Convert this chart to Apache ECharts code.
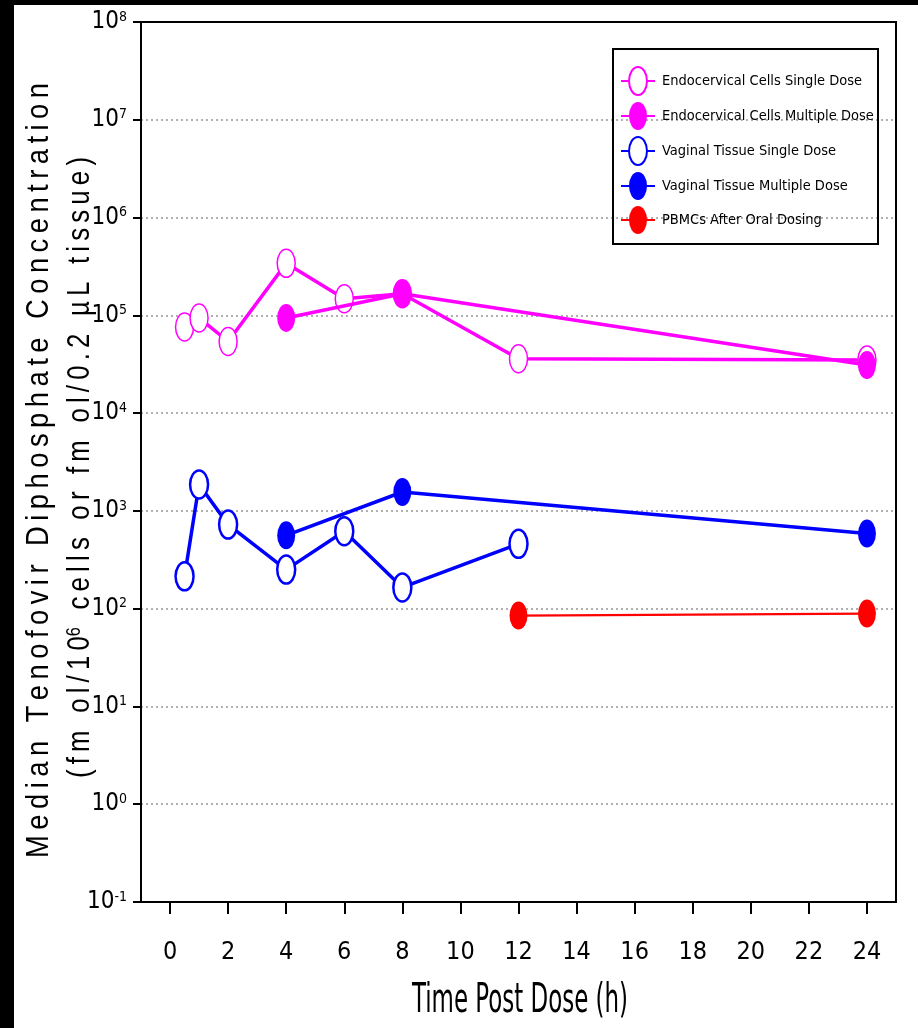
<!DOCTYPE html>
<html><head><meta charset="utf-8">
<script src="https://cdn.jsdelivr.net/npm/echarts@6/dist/echarts.min.js"></script>
<style>html,body{margin:0;padding:0;background:#fff}#c{width:918px;height:1028px}</style>
</head><body><div id="c"></div>
<script>
// ---- data ----
const xTicks = [0, 2, 4, 6, 8, 10, 12, 14, 16, 18, 20, 22, 24];
const yTickExponents = [-1, 0, 1, 2, 3, 4, 5, 6, 7, 8];

const seriesNames = [
  'Endocervical Cells Single Dose',
  'Endocervical Cells Multiple Dose',
  'Vaginal Tissue Single Dose',
  'Vaginal Tissue Multiple Dose',
  'PBMCs After Oral Dosing'
];
const endoSingleTime  = [0.5, 1, 2, 4, 6, 8, 12, 24];
const endoSingleValue = [7.6e4, 9.4e4, 5.4e4, 3.4e5, 1.48e5, 1.66e5, 3.6e4, 3.5e4];
const endoMultiTime   = [4, 8, 24];
const endoMultiValue  = [9.4e4, 1.66e5, 3.1e4];
const vagSingleTime   = [0.5, 1, 2, 4, 6, 8, 12];
const vagSingleValue  = [214, 1860, 724, 251, 619, 165, 460];
const vagMultiTime    = [4, 8, 24];
const vagMultiValue   = [563, 1560, 586];
const pbmcTime        = [12, 24];
const pbmcValue       = [85, 89];

const yTitle1 = 'Median Tenofovir Diphosphate Concentration';
const yTitle2a = '(fm ol/10';
const yTitle2sup = '6';
const yTitle2b = 'cells or fm ol/0.2 \u00b5L tissue)';
const xTitle = 'Time Post Dose (h)';

// ---- helpers ----
const NARROW = "'DejaVu Sans Condensed','Liberation Sans Narrow',sans-serif";
const SANS = "'Liberation Sans',Arial,sans-serif";
const ELLIPSE = 'path://M0 0M28 28M5 14A9 14 0 1 1 23 14A9 14 0 1 1 5 14Z';
const pairs = (t, v) => t.map((x, i) => [x, v[i]]);
const spaced = (s, sep, wsep) => s.split(' ').map(w => w.split('').join(sep)).join(wsep);

const ctx = document.createElement('canvas').getContext('2d');
function tw(text, size, fam) { ctx.font = size + 'px ' + fam; return ctx.measureText(text).width; }

const t1 = spaced(yTitle1, '\u2009', '\u2009 \u2009');
const t1w = tw(t1, 32, SANS);
const WS2 = '\u2009 \u2009';
const t2a = spaced(yTitle2a, '\u2009', WS2);
const t2b = WS2 + spaced(yTitle2b, '\u2009', WS2);
const t2w = tw(t2a, 30, SANS) + tw(yTitle2sup, 19, SANS) + tw(t2b, 30, SANS);

const chart = echarts.init(document.getElementById('c'), null, {renderer: 'canvas'});

function mk(name, t, v, open, color, lw, bw) {
  return {
    name, type: 'line', data: pairs(t, v),
    symbol: ELLIPSE, symbolSize: 28,
    itemStyle: open ? {color: '#fff', borderColor: color, borderWidth: bw} : {color: color, borderWidth: 0},
    lineStyle: {color: color, width: lw},
    emphasis: {disabled: true},
    z: open ? 2 : 3
  };
}

chart.setOption({
  animation: false,
  backgroundColor: '#fff',
  grid: {left: 141, top: 22, right: 22, bottom: 126, show: true, borderColor: '#000', borderWidth: 2,
         backgroundColor: 'transparent', containLabel: false, outerBoundsMode: 'none'},
  legend: {
    left: 620, top: 66, orient: 'vertical', itemWidth: 34, itemHeight: 35, itemGap: 6, padding: 0,
    selectedMode: false, data: seriesNames,
    textStyle: {fontSize: 14.5, fontFamily: NARROW, color: '#000', padding: [0, 0, 0, 2]}
  },
  xAxis: {
    type: 'value', min: -1, max: 25,
    axisLine: {show: true, onZero: false, lineStyle: {color: '#000', width: 2}},
    axisTick: {show: true, length: 12, lineStyle: {color: '#000', width: 2}, customValues: xTicks},
    axisLabel: {customValues: xTicks, fontSize: 25, fontFamily: NARROW, color: '#000', margin: 38},
    splitLine: {show: false}
  },
  yAxis: {
    type: 'log', logBase: 10, min: Math.pow(10, yTickExponents[0]), max: Math.pow(10, yTickExponents[yTickExponents.length - 1]),
    splitNumber: yTickExponents.length - 1,
    axisLine: {show: true, onZero: false, lineStyle: {color: '#000', width: 2}},
    axisTick: {show: true, length: 8, lineStyle: {color: '#000', width: 2}},
    axisLabel: {
      showMinLabel: true, showMaxLabel: true, margin: 14, color: '#000',
      formatter: v => '{b|10}{s|' + Math.round(Math.log10(v)) + '}',
      rich: {
        b: {fontSize: 24, fontFamily: NARROW, color: '#000'},
        s: {fontSize: 14, fontFamily: NARROW, color: '#000', verticalAlign: 'top'}
      }
    },
    splitLine: {show: true, showMinLine: false, showMaxLine: false,
                lineStyle: {color: '#b0b0b0', width: 2, type: [2, 3]}},
    minorTick: {show: false}
  },
  graphic: [
    {type: 'rect', shape: {x: 0, y: 0, width: 918, height: 5}, style: {fill: '#000'}, z: 100},
    {type: 'rect', shape: {x: 0, y: 0, width: 14, height: 1028}, style: {fill: '#000'}, z: 100},
    {type: 'rect', shape: {x: 613, y: 49, width: 265, height: 195}, style: {fill: 'none', stroke: '#000', lineWidth: 2}, z: 100},
    {type: 'text', x: 39, y: 470.5, rotation: Math.PI / 2, scaleX: 775 / t1w, scaleY: 1,
     style: {text: t1, fontSize: 32, fontFamily: SANS, fill: '#000', align: 'center', verticalAlign: 'middle',
             textAlign: 'center', textVerticalAlign: 'middle'}, z: 100},
    {type: 'text', x: 80, y: 467.5, rotation: Math.PI / 2, scaleX: 621 / t2w, scaleY: 1.07,
     style: {text: t2a + '{s|' + yTitle2sup + '}' + t2b, fontSize: 30, fontFamily: SANS, fill: '#000',
             align: 'center', verticalAlign: 'middle', textAlign: 'center', textVerticalAlign: 'middle',
             rich: {s: {fontSize: 19, fontFamily: SANS, fill: '#000', verticalAlign: 'top'}}}, z: 100},
    {type: 'text', x: 520, y: 1001, scaleX: 1, scaleY: 1.6,
     style: {text: xTitle, fontSize: 25.5, fontFamily: NARROW, fill: '#000', align: 'center', verticalAlign: 'middle',
             textAlign: 'center', textVerticalAlign: 'middle'}, z: 100}
  ],
  series: [
    mk(seriesNames[0], endoSingleTime, endoSingleValue, true, '#ff00ff', 3.5, 1.5),
    mk(seriesNames[1], endoMultiTime, endoMultiValue, false, '#ff00ff', 3.5, 0),
    mk(seriesNames[2], vagSingleTime, vagSingleValue, true, '#0000ff', 3.5, 2.5),
    mk(seriesNames[3], vagMultiTime, vagMultiValue, false, '#0000ff', 3.5, 0),
    mk(seriesNames[4], pbmcTime, pbmcValue, false, '#ff0000', 2.2, 0)
  ]
});
</script></body></html>
